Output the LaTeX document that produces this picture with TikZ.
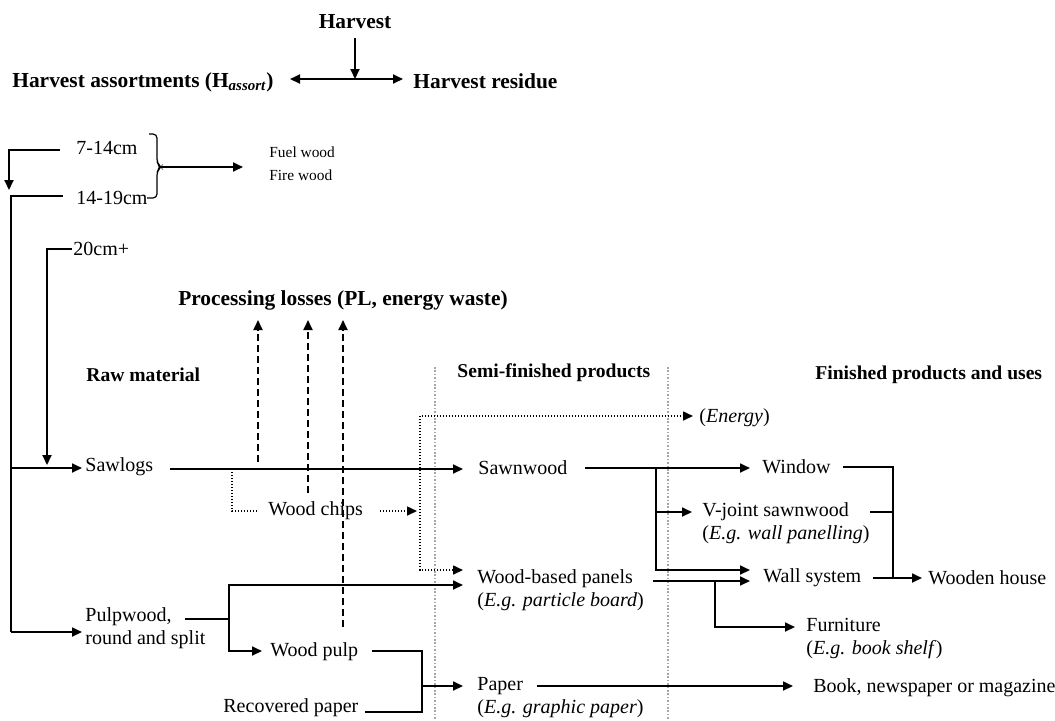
\documentclass[tikz,border=0pt]{standalone}
\usepackage{fontspec}
\setmainfont{Liberation Serif}
\usetikzlibrary{arrows.meta}
\begin{document}
\begin{tikzpicture}[x=0.5pt,y=-0.5pt,
  txt/.style={anchor=west,inner sep=0pt,font=\fontsize{10}{11.5}\selectfont,align=left},
  hd/.style={anchor=west,inner sep=0pt,font=\fontsize{9.8}{11.5}\selectfont\bfseries},
  topl/.style={anchor=west,inner sep=0pt,font=\fontsize{10.7}{12}\selectfont\bfseries},
  pll/.style={inner sep=0pt,font=\fontsize{10.7}{12}\selectfont\bfseries},
  smallt/.style={anchor=west,inner sep=0pt,font=\fontsize{7.7}{11.5}\selectfont,align=left},
  ln/.style={line width=0.9pt},
  arr/.style={ln,-{Triangle[length=5pt,width=4.5pt]}},
  arrtwo/.style={ln,{Triangle[length=5pt,width=4.5pt]}-{Triangle[length=5pt,width=4.5pt]}},
  dotl/.style={line width=0.8pt,dash pattern=on 0.7pt off 0.8pt},
  dotarr/.style={dotl,-{Triangle[length=5pt,width=4.5pt]}},
  dotarrtwo/.style={dotl,{Triangle[length=5pt,width=4.5pt]}-{Triangle[length=5pt,width=4.5pt]}},
  dasharr/.style={line width=0.9pt,dash pattern=on 3.5pt off 2pt,-{Triangle[length=5pt,width=4.5pt]}},
  sepl/.style={gray!70,line width=0.7pt,dash pattern=on 0.8pt off 0.9pt}
]
\useasboundingbox (0,0) rectangle (1055,720);

% ---------- top ----------
\node[pll] (harvest) at (355,22) {Harvest};
\node[topl] (assort) at (12,82) {Harvest assortments (H\textsubscript{\itshape assort})};
\node[topl] (residue) at (413,81) {Harvest residue};
\coordinate (h0) at (355,38);
\coordinate (hj) at (355,79);
\coordinate (hl) at (290,79);
\coordinate (hr) at (403,79);
\draw[arr] (h0) -- (hj);
\draw[arrtwo] (hl) -- (hr);

% ---------- diameter classes ----------
\node[txt] (c714) at (76,148) {7-14cm};
\node[txt] (c1419) at (76,198) {14-19cm};
\node[txt] (c20) at (73,249) {20cm+};
\node[smallt] (fuel) at (269,163.5) {Fuel wood\\Fire wood};

\coordinate (a1) at (60,150);
\coordinate (a2) at (9,190);
\draw[arr] (a1) -| (a2);
\coordinate (b1) at (63,196);
\coordinate (b2) at (11,632);
\coordinate (pin) at (82,632);
\coordinate (bs) at (11,468);
\coordinate (sin) at (82,468);
\draw[ln] (b1) -| (b2);
\draw[arr] (b2) -- (pin);
\draw[arr] (bs) -- (sin);
\coordinate (d1) at (72,249);
\coordinate (d2) at (47,465);
\draw[arr] (d1) -| (d2);

% bracket
\coordinate (brt) at (149,134);
\coordinate (brb) at (147,198);
\coordinate (brm) at (161,167);
\draw[line width=0.6pt,rounded corners=2pt] (brt) -- (157,134) -- (157,163) -- (brm) -- (157,171) -- (157,198) -- (brb);
\coordinate (fuelin) at (243,167);
\draw[arr] (brm) -- (fuelin);

% ---------- processing losses ----------
\node[pll] (pl) at (343,300) {Processing losses (PL, energy waste)};
\coordinate (p1a) at (258,462);
\coordinate (p1b) at (258,320);
\coordinate (p2a) at (308,493);
\coordinate (p2b) at (308,320);
\coordinate (p3a) at (343,627);
\coordinate (p3b) at (343,320);
\draw[dasharr] (p1a) -- (p1b);
\draw[dasharr] (p2a) -- (p2b);
\draw[dasharr] (p3a) -- (p3b);

% ---------- headings and separators ----------
\node[hd] (raw) at (86,375) {Raw material};
\node[hd] (semi) at (457,373) {Semi-finished products};
\node[hd] (fin) at (815,375) {Finished products and uses};
\coordinate (s1t) at (435,367);
\coordinate (s1b) at (435,720);
\coordinate (s2t) at (668,367);
\coordinate (s2b) at (668,720);
\draw[sepl] (s1t) -- (s1b);
\draw[sepl] (s2t) -- (s2b);

% ---------- raw material ----------
\node[txt] (sawlogs) at (85,467) {Sawlogs};
\node[txt] (pulpw) at (85,628.5) {Pulpwood,\\round and split};
\node[txt] (chips) at (268,511) {Wood chips};
\node[txt] (wpulp) at (270,652) {Wood pulp};
\node[txt] (recov) at (223,708) {Recovered paper};

% ---------- semi-finished ----------
\node[txt] (sawn) at (478,468) {Sawnwood};
\node[txt] (wbp) at (477,590) {Wood-based panels\\(\textit{E.g. particle board})};
\node[txt] (paper) at (477,697.5) {Paper\\(\textit{E.g. graphic paper})};
\node[txt] (energy) at (699,418) {(\textit{Energy})};

% ---------- finished ----------
\node[txt] (window) at (762,467) {Window};
\node[txt] (vjoint) at (702,523.5) {V-joint sawnwood\\(\textit{E.g. wall panelling})};
\node[txt] (wall) at (763,578) {Wall system};
\node[txt] (house) at (928,578) {Wooden house};
\node[txt] (furn) at (806,638.5) {Furniture\\(\textit{E.g. book shelf})};
\node[txt] (book) at (813,688) {Book, newspaper or magazine};

% sawlogs -> sawnwood
\coordinate (sl0) at (170,469);
\coordinate (sl1) at (463,469);
\draw[arr] (sl0) -- (sl1);
% wood chips
\coordinate (wc0) at (232,469);
\coordinate (wc1) at (257,511);
\draw[dotl] (wc0) |- (wc1);
\coordinate (wc2) at (380,511);
\coordinate (wc3) at (417,511);
\draw[dotarr] (wc2) -- (wc3);
\coordinate (en0) at (463,570);
\coordinate (enc) at (420,416);
\coordinate (en1) at (693,416);
\draw[dotarrtwo] (en0) -| (enc) -- (en1);

% pulpwood
\coordinate (pw0) at (185,619);
\coordinate (pwj) at (229,619);
\coordinate (pwa) at (463,585);
\coordinate (pwb) at (262,651);
\draw[ln] (pw0) -- (pwj);
\draw[arr] (pwj) |- (pwa);
\draw[arr] (pwj) |- (pwb);

% paper
\coordinate (wp0) at (372,651);
\coordinate (rp0) at (365,712);
\coordinate (ppj) at (422,686);
\coordinate (ppin) at (463,686);
\draw[ln] (wp0) -| (ppj);
\draw[ln] (rp0) -| (ppj);
\draw[arr] (ppj) -- (ppin);
\coordinate (pb0) at (537,686);
\coordinate (pb1) at (793,686);
\draw[arr] (pb0) -- (pb1);

% sawnwood -> products
\coordinate (sw0) at (585,468);
\coordinate (sw1) at (750,468);
\coordinate (swj) at (656,468);
\coordinate (swv) at (692,512);
\coordinate (sww) at (750,570);
\draw[arr] (sw0) -- (sw1);
\draw[arr] (swj) |- (sww);
\coordinate (swm) at (656,512);
\draw[arr] (swm) -- (swv);

% wood-based panels -> products
\coordinate (wb0) at (653,581);
\coordinate (wb1) at (750,581);
\coordinate (wbj) at (715,581);
\coordinate (wbf) at (795,627);
\draw[arr] (wb0) -- (wb1);
\draw[arr] (wbj) |- (wbf);

% -> wooden house
\coordinate (wi0) at (843,467);
\coordinate (hj1) at (893,578);
\coordinate (vj0) at (870,512);
\coordinate (vj1) at (893,512);
\coordinate (ws0) at (873,578);
\coordinate (hs1) at (922,578);
\draw[ln] (wi0) -| (hj1);
\draw[ln] (vj0) -- (vj1);
\draw[arr] (ws0) -- (hs1);
\end{tikzpicture}
\end{document}
